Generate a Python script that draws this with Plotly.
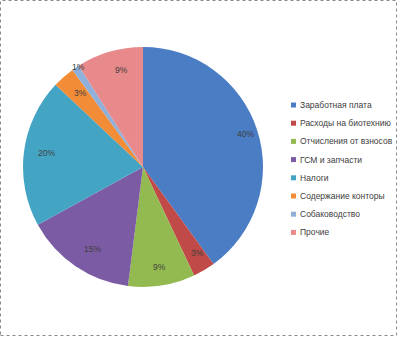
import math
import plotly.graph_objects as go

labels = ["Заработная плата", "Расходы на биотехнию", "Отчисления от взносов",
          "ГСМ и запчасти", "Налоги", "Содержание конторы", "Собаководство", "Прочие"]
values = [40, 3, 9, 15, 20, 3, 1, 9]
colors = ["#4A7DC4", "#C04A48", "#93BA50", "#7B5BA3", "#44A4C4", "#F28C36", "#8FB0DA", "#E8898B"]

W, H = 398, 337
cx, cy, r = 143, 167, 120

fig = go.Figure(go.Pie(
    labels=labels, values=values, sort=False, direction="clockwise", rotation=0,
    marker=dict(colors=colors, line=dict(width=0)),
    textinfo="none", hoverinfo="label+percent", showlegend=False,
    domain=dict(x=[(cx - r) / W, (cx + r) / W], y=[1 - (cy + r) / H, 1 - (cy - r) / H]),
))

total = sum(values)
cum = 0
for v in values:
    mid = (cum + v / 2) / total
    cum += v
    th = 2 * math.pi * mid
    k = 1.08 if v / total < 0.02 else 0.9
    x = cx + k * r * math.sin(th)
    y = cy - k * r * math.cos(th)
    fig.add_annotation(x=x / W, y=1 - y / H, xref="paper", yref="paper",
                       text=f"{round(100 * v / total)}%", showarrow=False,
                       font=dict(family="Liberation Sans", size=8.5, color="#404040"))

# legend (manual, to match small square markers)
lx, ly0, dy = 291, 105, 18.2
for i, (lab, col) in enumerate(zip(labels, colors)):
    y = ly0 + i * dy
    fig.add_shape(type="rect", xref="paper", yref="paper",
                  x0=lx / W, x1=(lx + 5) / W, y0=1 - (y + 2.5) / H, y1=1 - (y - 2.5) / H,
                  fillcolor=col, line=dict(width=0))
    fig.add_annotation(x=(lx + 7) / W, y=1 - y / H, xref="paper", yref="paper",
                       xanchor="left", yanchor="middle", text=lab, showarrow=False,
                       font=dict(family="Liberation Sans", size=8.5, color="#404040"))

fig.add_shape(type="rect", xref="paper", yref="paper",
              x0=0.5 / W, x1=1 - 1.5 / W, y0=1.5 / H, y1=1 - 0.5 / H,
              line=dict(color="#8a8a8a", width=1, dash="dot"))

fig.update_layout(
    width=W, height=H, margin=dict(l=0, r=0, t=0, b=0, autoexpand=False),
    paper_bgcolor="white", plot_bgcolor="white",
    showlegend=False,
)
fig.write_html("out.html")
